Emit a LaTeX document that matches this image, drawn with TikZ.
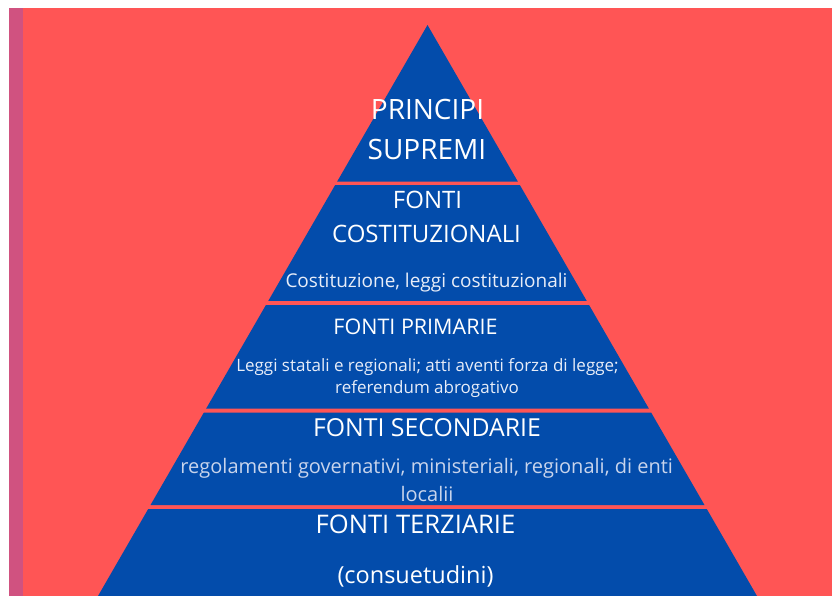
\documentclass[tikz,border=0pt]{standalone}
\usepackage{fontspec}
\setmainfont{Open Sans}
\usetikzlibrary{calc}
\definecolor{bgred}{RGB}{255,85,85}
\definecolor{pyrblue}{RGB}{3,76,171}
\definecolor{stripmag}{RGB}{208,82,128}
\definecolor{subtxt}{RGB}{232,237,248}
\definecolor{lighttxt}{RGB}{200,212,236}
\begin{document}
\begin{tikzpicture}[x=1pt,y=-1pt]
\tikzset{
  band/.style={fill=pyrblue,draw=none},
  lbl/.style={text=white,anchor=base,inner sep=0pt},
  sublbl/.style={text=subtxt,anchor=base,inner sep=0pt},
  lightlbl/.style={text=lighttxt,anchor=base,inner sep=0pt},
}
\newcommand{\fsz}[1]{\fontsize{#1}{#1}\selectfont}
\useasboundingbox (0,0) rectangle (832,596);
\fill[white] (0,0) rectangle (832,596);
\fill[bgred] (9,8) rectangle (832,596);
\fill[stripmag] (9,8) rectangle (23,596);
\coordinate (apex) at (427.5,25);
\coordinate (bl) at (98,596);
\coordinate (br) at (757,596);
% bands
\fill[band] (apex) -- ($(apex)!0.27443!(br)$) -- ($(apex)!0.27443!(bl)$) -- cycle;
\fill[band] ($(apex)!0.28021!(bl)$) -- ($(apex)!0.28021!(br)$) -- ($(apex)!0.48336!(br)$) -- ($(apex)!0.48336!(bl)$) -- cycle;
\fill[band] ($(apex)!0.49037!(bl)$) -- ($(apex)!0.49037!(br)$) -- ($(apex)!0.67163!(br)$) -- ($(apex)!0.67163!(bl)$) -- cycle;
\fill[band] ($(apex)!0.67863!(bl)$) -- ($(apex)!0.67863!(br)$) -- ($(apex)!0.84063!(br)$) -- ($(apex)!0.84063!(bl)$) -- cycle;
\fill[band] ($(apex)!0.84764!(bl)$) -- ($(apex)!0.84764!(br)$) -- (br) -- (bl) -- cycle;
% texts
\node[lbl,font=\fsz{28}] (p1) at (427.5,120) {PRINCIPI};
\node[lbl,font=\fsz{28}] (p2) at (427,160) {SUPREMI};
\node[lbl,font=\fsz{24}] (c1) at (427.5,208.5) {FONTI};
\node[lbl,font=\fsz{24}] (c2) at (426.5,242.7) {COSTITUZIONALI};
\node[sublbl,font=\fsz{19}] (c3) at (426.5,287) {Costituzione, leggi costituzionali};
\node[lbl,font=\fsz{21.5}] (r1) at (415.5,334) {FONTI PRIMARIE};
\node[sublbl,font=\fsz{17}] (r2) at (427.5,371) {Leggi statali e regionali; atti aventi forza di legge;};
\node[sublbl,font=\fsz{17}] (r3) at (427,393.3) {referendum abrogativo};
\node[lbl,font=\fsz{24.8}] (s1) at (427,436.7) {FONTI SECONDARIE};
\node[lightlbl,font=\fsz{20}] (s2) at (426.7,473.3) {regolamenti governativi, ministeriali, regionali, di enti};
\node[lightlbl,font=\fsz{20}] (s3) at (427,501) {localii};
\node[lbl,font=\fsz{25.6}] (t1) at (415.5,533.3) {FONTI TERZIARIE};
\node[lbl,font=\fsz{23.5}] (t2) at (415.5,583.3) {(consuetudini)};
\end{tikzpicture}
\end{document}
